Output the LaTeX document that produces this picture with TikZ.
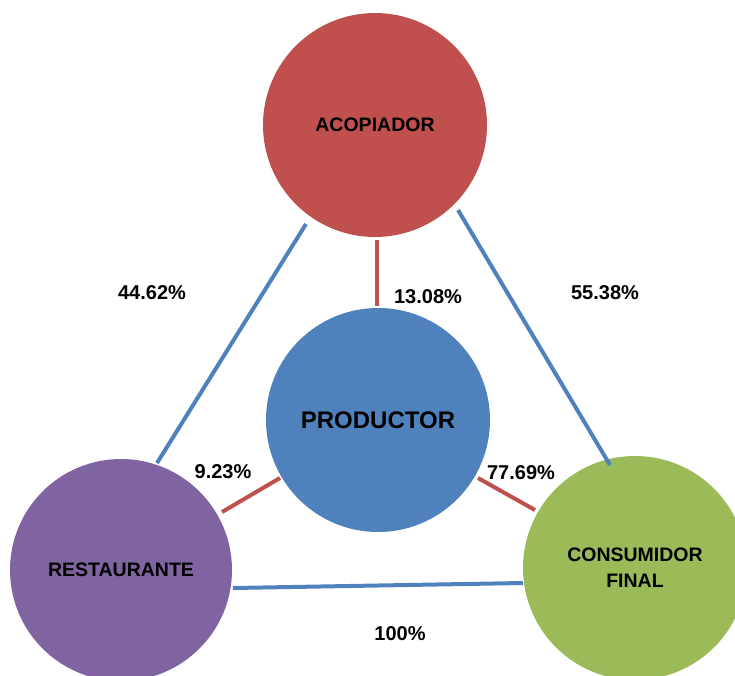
\documentclass[tikz,border=0pt]{standalone}
\usepackage{fontspec}
\setmainfont{Liberation Sans}
\definecolor{cred}{HTML}{C0504D}
\definecolor{cblue}{HTML}{4F81BD}
\definecolor{cpurple}{HTML}{8064A2}
\definecolor{cgreen}{HTML}{9BBB59}
\tikzset{
  actor/.style={circle, minimum size=224pt, inner sep=0pt, text=black, font=\fontsize{19.5}{26}\selectfont\bfseries, align=center},
  pct/.style={font=\fontsize{20}{22}\selectfont\bfseries, inner sep=0pt},
  blueline/.style={draw=cblue, line width=4pt},
  redline/.style={draw=cred, line width=4pt},
}
\begin{document}
\begin{tikzpicture}[x=1pt,y=-1pt]
\useasboundingbox (0,0) rectangle (735,675);
\begin{scope}
\clip (0,0) rectangle (735,675);
\node[actor, fill=cred] (acop) at (375,125) {ACOPIADOR};
\node[actor, fill=cblue, font=\fontsize{24}{26}\selectfont\bfseries] (prod) at (378,420) {PRODUCTOR};
\node[actor, fill=cpurple, minimum size=222pt] (rest) at (121,570) {RESTAURANTE};
\node[actor, fill=cgreen] (cons) at (635,568) {CONSUMIDOR\\FINAL};
\end{scope}
% blue connectors
\coordinate (a1) at (306,224); \coordinate (r1) at (157,463);
\coordinate (a2) at (458,210); \coordinate (c2) at (610,465);
\coordinate (r3) at (233,588); \coordinate (c3) at (523,583);
\draw[blueline] (a1) -- (r1);
\draw[blueline] (a2) -- (c2);
\draw[blueline] (r3) -- (c3);
% red connectors
\coordinate (a4) at (377,240); \coordinate (p4) at (377,306);
\coordinate (r5) at (222,512); \coordinate (p5) at (280,478);
\coordinate (p6) at (478,478); \coordinate (c6) at (535,510);
\draw[redline] (a4) -- (p4);
\draw[redline] (r5) -- (p5);
\draw[redline] (p6) -- (c6);
% labels
\node[pct] (l1) at (152,293) {44.62\%};
\node[pct] (l2) at (605,293) {55.38\%};
\node[pct] (l3) at (428,297) {13.08\%};
\node[pct] (l4) at (223,472) {9.23\%};
\node[pct] (l5) at (521,473) {77.69\%};
\node[pct] (l6) at (400,634) {100\%};
\end{tikzpicture}
\end{document}
